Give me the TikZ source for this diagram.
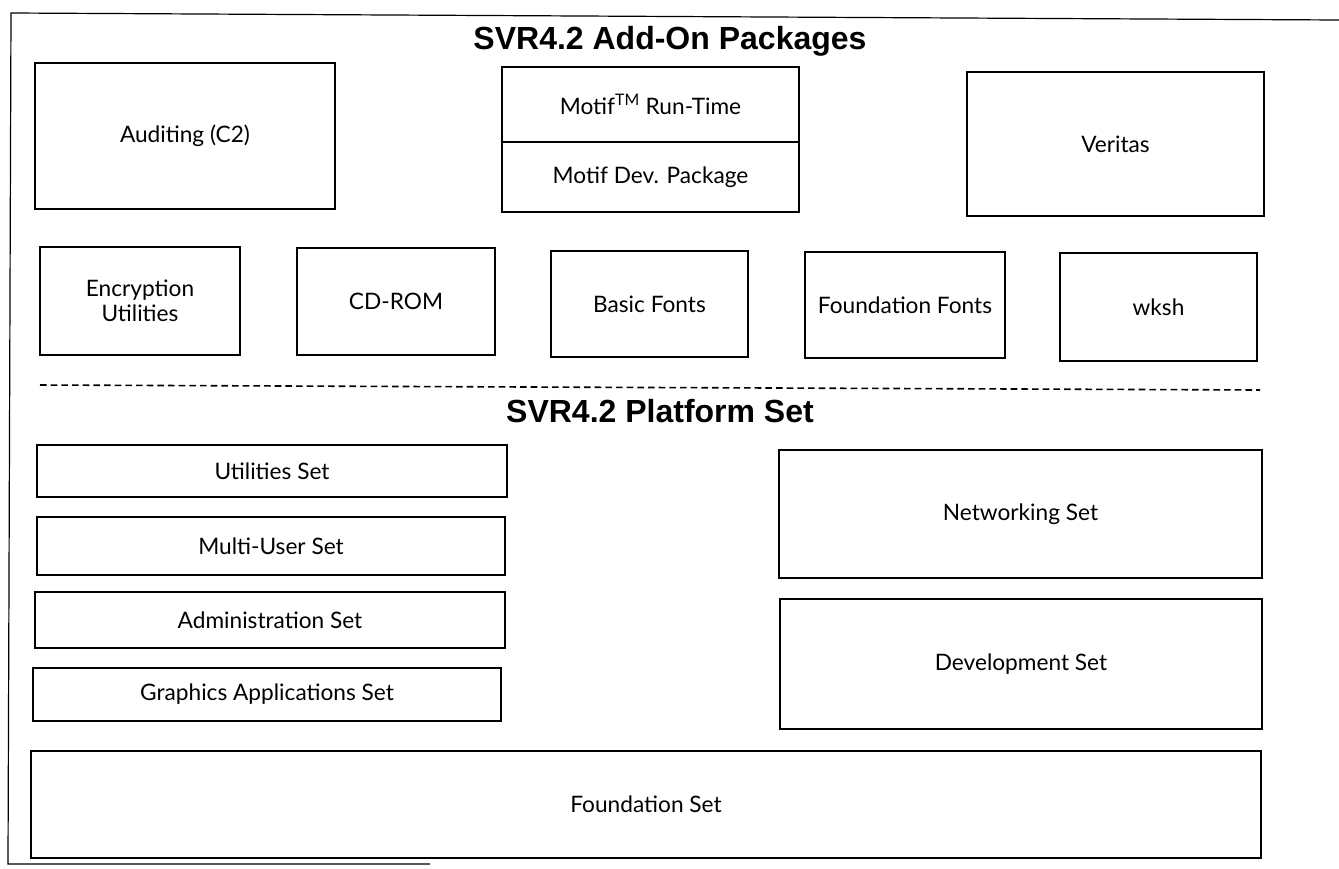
\documentclass[tikz,border=0pt]{standalone}
\usepackage{fontspec}
\setmainfont{Lato}
\newfontfamily\titlefont{Liberation Sans}
\tikzset{
  box/.style={draw=black, line width=1.1pt, inner sep=2pt, align=center, font=\fontsize{17}{20}\selectfont},
  heading/.style={font=\titlefont\bfseries\fontsize{24}{28}\selectfont, inner sep=0pt},
  frame/.style={draw=black, line width=0.9pt},
  sep/.style={draw=black, line width=1.2pt, dash pattern=on 5pt off 3pt}
}
\newcommand\bx[6]{\node[box, minimum width={(#4-#2)*0.75pt}, minimum height={(#5-#3)*0.75pt}] (#1) at ({(#2+#4)/2},{(#3+#5)/2}) {#6};}
\begin{document}
\begin{tikzpicture}[x=0.75pt, y=-0.75pt]
\useasboundingbox (0,0) rectangle (1339,868);
% outer frame
\coordinate (ftl) at (11,13);
\coordinate (ftr) at (1339,20);
\coordinate (fbl) at (8,864);
\coordinate (fbr) at (430,864);
\draw[frame] (ftr) -- (ftl) -- (fbl) -- (fbr);
% headings
\node[heading, anchor=base] (t1) at (670,49) {SVR4.2 Add-On Packages};
\node[heading, anchor=base] (t2) at (660,422) {SVR4.2 Platform Set};
% add-on packages
\bx{aud}{35}{63}{335}{209}{Auditing (C2)}
\bx{mrt}{502}{67}{799}{142}{Motif\textsuperscript{TM} Run-Time}
\bx{mdev}{502}{142}{799}{212}{Motif Dev. Package}
\bx{ver}{967}{72}{1264}{216}{Veritas}
\bx{enc}{40}{247}{240}{355}{Encryption\\[-1pt]Utilities}
\bx{cd}{297}{248}{495}{355}{CD-ROM}
\bx{bf}{551}{251}{748}{357}{Basic Fonts}
\bx{ff}{805}{252}{1005}{358}{Foundation Fonts}
\bx{wk}{1060}{253}{1257}{361}{wksh}
% separator
\coordinate (sl) at (40,385);
\coordinate (sr) at (1260,390);
\draw[sep] (sl) -- (sr);
% platform set
\bx{util}{37}{445}{507}{497}{Utilities Set}
\bx{mu}{37}{517}{505}{575}{Multi-User Set}
\bx{adm}{35}{592}{505}{648}{Administration Set}
\bx{gfx}{33}{668}{501}{721}{Graphics Applications Set}
\bx{net}{779}{450}{1262}{578}{Networking Set}
\bx{dev}{780}{599}{1262}{729}{Development Set}
\bx{fnd}{31}{751}{1261}{858}{Foundation Set}
\end{tikzpicture}
\end{document}
